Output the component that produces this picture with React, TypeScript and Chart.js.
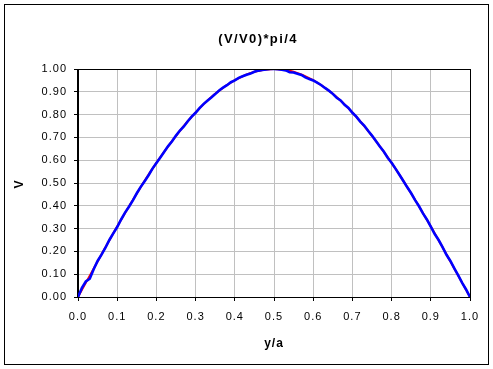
import React, { useEffect, useRef } from "react";
import { Chart, registerables } from "chart.js";

Chart.register(...registerables);

const xTicks = [0, 0.1, 0.2, 0.3, 0.4, 0.5, 0.6, 0.7, 0.8, 0.9, 1.0];
const yTicks = [0, 0.1, 0.2, 0.3, 0.4, 0.5, 0.6, 0.7, 0.8, 0.9, 1.0];

const blueX = [
  0.00, 0.01, 0.02, 0.03, 0.04, 0.05, 0.06, 0.07, 0.08, 0.09,
  0.10, 0.11, 0.12, 0.13, 0.14, 0.15, 0.16, 0.17, 0.18, 0.19,
  0.20, 0.21, 0.22, 0.23, 0.24, 0.25, 0.26, 0.27, 0.28, 0.29,
  0.30, 0.31, 0.32, 0.33, 0.34, 0.35, 0.36, 0.37, 0.38, 0.39,
  0.40, 0.41, 0.42, 0.43, 0.44, 0.45, 0.46, 0.47, 0.48, 0.49,
  0.50, 0.51, 0.52, 0.53, 0.54, 0.55, 0.56, 0.57, 0.58, 0.59,
  0.60, 0.61, 0.62, 0.63, 0.64, 0.65, 0.66, 0.67, 0.68, 0.69,
  0.70, 0.71, 0.72, 0.73, 0.74, 0.75, 0.76, 0.77, 0.78, 0.79,
  0.80, 0.81, 0.82, 0.83, 0.84, 0.85, 0.86, 0.87, 0.88, 0.89,
  0.90, 0.91, 0.92, 0.93, 0.94, 0.95, 0.96, 0.97, 0.98, 0.99,
  1.00,
];
const blueY = [
  0.000, 0.040, 0.068, 0.080, 0.122, 0.158, 0.186, 0.216, 0.250, 0.279,
  0.307, 0.340, 0.370, 0.396, 0.424, 0.455, 0.483, 0.508, 0.534, 0.563,
  0.588, 0.612, 0.637, 0.662, 0.683, 0.708, 0.730, 0.748, 0.771, 0.791,
  0.808, 0.828, 0.846, 0.861, 0.875, 0.890, 0.906, 0.918, 0.929, 0.942,
  0.950, 0.961, 0.968, 0.975, 0.980, 0.988, 0.993, 0.996, 0.998, 1.000,
  1.000, 0.999, 0.997, 0.994, 0.986, 0.985, 0.979, 0.974, 0.963, 0.956,
  0.950, 0.940, 0.930, 0.917, 0.905, 0.891, 0.874, 0.862, 0.843, 0.829,
  0.808, 0.791, 0.769, 0.752, 0.729, 0.708, 0.684, 0.660, 0.638, 0.611,
  0.589, 0.563, 0.536, 0.509, 0.481, 0.455, 0.425, 0.398, 0.367, 0.340,
  0.309, 0.276, 0.250, 0.219, 0.185, 0.158, 0.126, 0.095, 0.062, 0.033,
  0.000,
];

const redX = [0, 0.05, 0.1, 0.15, 0.2, 0.25, 0.3, 0.35, 0.4, 0.45, 0.5, 0.55, 0.6, 0.65, 0.7, 0.75, 0.8, 0.85, 0.9, 0.95, 1.0];
const redY = [0, 0.156, 0.309, 0.454, 0.588, 0.707, 0.809, 0.891, 0.951, 0.988, 1.0, 0.988, 0.951, 0.891, 0.809, 0.707, 0.588, 0.454, 0.309, 0.156, 0];

const titleText = "(V/V0)*pi/4";
const xTitle = "y/a";
const yTitle = "V";

const FONT = "'Liberation Sans', Arial, sans-serif";

const framePlugin = {
  id: "frame",
  beforeDraw(chart: any) {
    const ctx = chart.ctx;
    ctx.save();
    ctx.fillStyle = "#ffffff";
    ctx.fillRect(0, 0, chart.width, chart.height);
    ctx.restore();
    ctx.letterSpacing = "1px";
  },
  afterDraw(chart: any) {
    const ctx = chart.ctx;
    const a = chart.chartArea;
    ctx.letterSpacing = "0px";
    ctx.save();
    ctx.strokeStyle = "#000";
    ctx.lineWidth = 1;
    ctx.strokeRect(Math.round(a.left) - 0.5, Math.round(a.top) + 0.5, Math.round(a.right - a.left) + 1, Math.round(a.bottom - a.top));
    ctx.strokeRect(4.5, 4.5, 484, 360);
    ctx.fillStyle = "#000";
    ctx.textAlign = "center";
    ctx.textBaseline = "middle";
    ctx.font = `bold 13px ${FONT}`;
    ctx.letterSpacing = "1.4px";
    ctx.fillText(titleText, 258, 39);
    ctx.font = `bold 12px ${FONT}`;
    ctx.letterSpacing = "1px";
    ctx.fillText(xTitle, 274, 344);
    ctx.translate(20, 184);
    ctx.rotate(-Math.PI / 2);
    ctx.fillText(yTitle, 0, 0);
    ctx.restore();
  },
};

export default function App() {
  const ref = useRef<HTMLCanvasElement | null>(null);
  useEffect(() => {
    if (!ref.current) return;
    const chart = new Chart(ref.current, {
      type: "scatter",
      data: {
        datasets: [
          {
            label: "measured",
            data: blueX.map((x, i) => ({ x, y: blueY[i] })),
            showLine: true,
            borderColor: "#0000ff",
            backgroundColor: "#0000ff",
            borderWidth: 2.6,
            pointRadius: 0,
            order: 0,
          },
          {
            label: "theory",
            data: redX.map((x, i) => ({ x, y: redY[i] })),
            showLine: true,
            borderColor: "#ff0000",
            backgroundColor: "#ff0000",
            borderWidth: 2,
            pointRadius: 0,
            cubicInterpolationMode: "monotone",
            order: 1,
          },
        ],
      },
      options: {
        animation: false,
        responsive: false,
        maintainAspectRatio: false,
        layout: { padding: { top: 69, right: 23, left: 0, bottom: 0 } },
        plugins: { legend: { display: false }, tooltip: { enabled: false }, title: { display: false } },
        scales: {
          x: {
            type: "linear",
            min: 0,
            max: 1,
            afterBuildTicks: (s: any) => { s.ticks = xTicks.map((v) => ({ value: v })); },
            afterFit: (s: any) => { s.height = 72; },
            ticks: {
              color: "#000",
              font: { family: FONT, size: 11 },
              padding: 9,
              maxRotation: 0,
              callback: (v: any) => Number(v).toFixed(1),
            },
            grid: { color: "#c0c0c0", tickColor: "#000", tickLength: 4, lineWidth: 1 },
            border: { color: "#000", width: 1 },
          },
          y: {
            type: "linear",
            min: 0,
            max: 1,
            afterBuildTicks: (s: any) => { s.ticks = yTicks.map((v) => ({ value: v })); },
            afterFit: (s: any) => { s.width = 78; },
            ticks: {
              color: "#000",
              font: { family: FONT, size: 11 },
              padding: 7,
              callback: (v: any) => Number(v).toFixed(2),
            },
            grid: { color: "#c0c0c0", tickColor: "#000", tickLength: 4, lineWidth: 1 },
            border: { color: "#000", width: 1 },
          },
        },
      },
      plugins: [framePlugin],
    } as any);
    return () => chart.destroy();
  }, []);
  return (
    <div style={{ position: "absolute", left: 0, top: 0, width: 493, height: 369 }}>
      <canvas ref={ref} width={493} height={369} style={{ width: 493, height: 369, display: "block" }} />
    </div>
  );
}
